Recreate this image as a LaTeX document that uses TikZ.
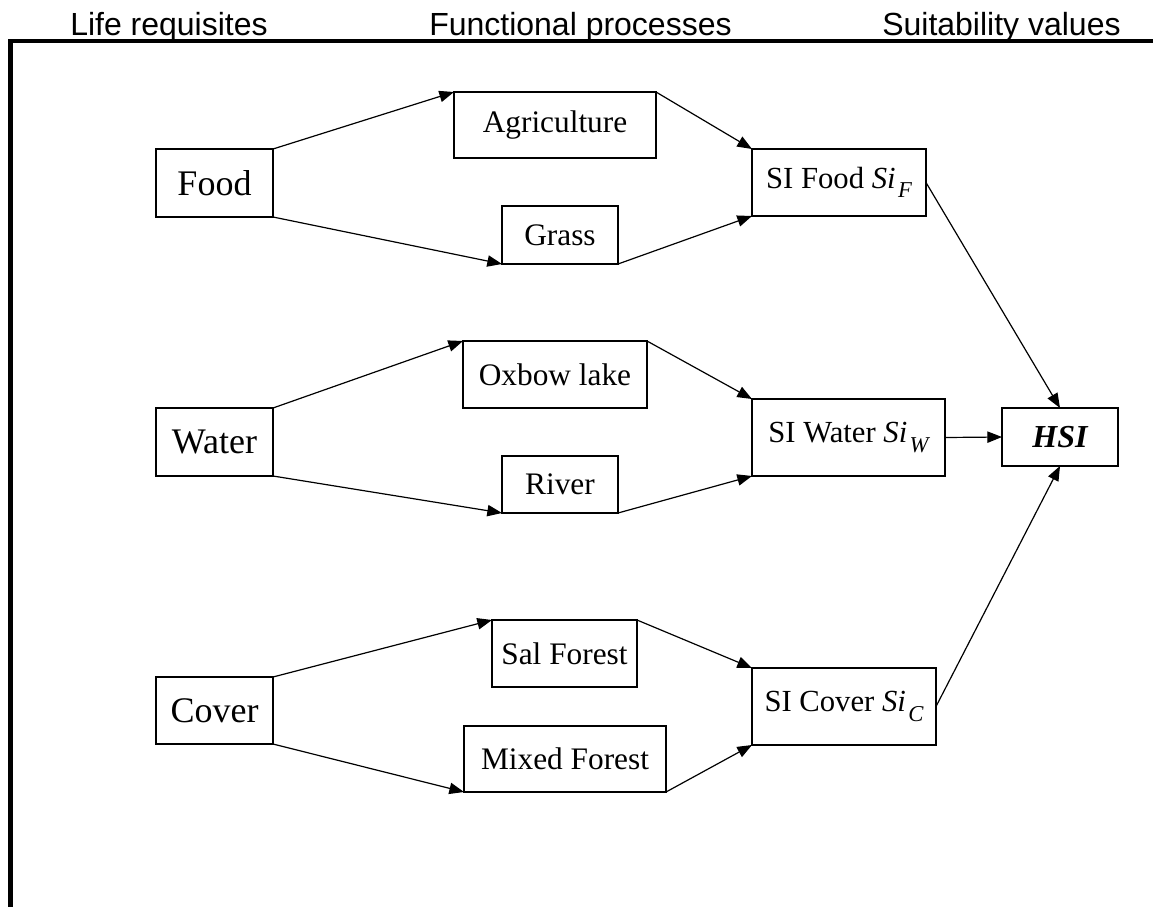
\documentclass[tikz,border=0pt]{standalone}
\usepackage{fontspec}
\setmainfont{Liberation Serif}
\newfontfamily\hsans{Liberation Sans}
\usetikzlibrary{arrows.meta}
\tikzset{
  box/.style n args={2}{draw, line width=1.2pt, inner sep=0pt, outer sep=0pt,
    minimum width=#1*0.75pt, minimum height=#2*0.75pt, align=center},
  bigtxt/.style={font=\fontsize{27}{30}\selectfont},
  midtxt/.style={font=\fontsize{23.5}{26}\selectfont},
  sitxt/.style={font=\fontsize{23}{26}\selectfont},
  head/.style={font=\hsans\fontsize{24}{26}\selectfont, anchor=base west, inner sep=0pt},
  conn/.style={line width=0.9pt, -{Triangle[length=11pt,width=8.5pt]}},
  frame/.style={line width=3.4pt}
}
\newcommand{\sisub}[1]{\textit{Si}\hspace{0.08em}\raisebox{-0.3em}{\fontsize{17}{17}\selectfont\itshape #1}}
\begin{document}
\begin{tikzpicture}[x=0.75pt,y=-0.75pt]
\useasboundingbox (0,0) rectangle (1153,907);
% header
\node[head] (h1) at (70,35) {Life requisites};
\node[head] (h2) at (429,35) {Functional processes};
\node[head] (h3) at (882,35) {Suitability values};
\draw[frame] (1153,41) -- (10.75,41) -- (10.75,907);
% left column
\node[box={117}{68}, bigtxt] (food) at (214.5,183) {Food};
\node[box={117}{68}, bigtxt] (water) at (214.5,442) {Water};
\node[box={117}{67}, bigtxt] (cover) at (214.5,710.5) {Cover};
% middle column
\node[box={202}{66}, midtxt] (agri) at (555,125) {Agriculture};
\node[box={116}{58}, midtxt] (grass) at (560,235) {Grass};
\node[box={184}{67}, midtxt] (oxbow) at (555,374.5) {Oxbow lake};
\node[box={116}{57}, midtxt] (river) at (560,484.5) {River};
\node[box={145}{67}, midtxt] (sal) at (564.5,653.5) {Sal Forest};
\node[box={202}{66}, midtxt] (mixed) at (565,759) {Mixed Forest};
% SI column
\node[box={174}{67}, sitxt] (sifood) at (839,182.5) {SI Food \sisub{F}};
\node[box={193}{77}, sitxt] (siwater) at (848.5,437.5) {SI Water \sisub{W}};
\node[box={184}{77}, sitxt] (sicover) at (844,706.5) {SI Cover \sisub{C}};
% HSI
\node[box={116}{58}, font=\fontsize{24}{26}\selectfont\bfseries\itshape] (hsi) at (1060,437) {HSI};
% connectors
\draw[conn] (food.north east) -- (agri.north west);
\draw[conn] (food.south east) -- (grass.south west);
\draw[conn] (agri.north east) -- (sifood.north west);
\draw[conn] (grass.south east) -- (sifood.south west);
\draw[conn] (water.north east) -- (oxbow.north west);
\draw[conn] (water.south east) -- (river.south west);
\draw[conn] (oxbow.north east) -- (siwater.north west);
\draw[conn] (river.south east) -- (siwater.south west);
\draw[conn] (cover.north east) -- (sal.north west);
\draw[conn] (cover.south east) -- (mixed.south west);
\draw[conn] (sal.north east) -- (sicover.north west);
\draw[conn] (mixed.south east) -- (sicover.south west);
\draw[conn] (sifood.east) -- (hsi.north);
\draw[conn] (siwater.east) -- (hsi.west);
\draw[conn] (sicover.east) -- (hsi.south);
\end{tikzpicture}
\end{document}
